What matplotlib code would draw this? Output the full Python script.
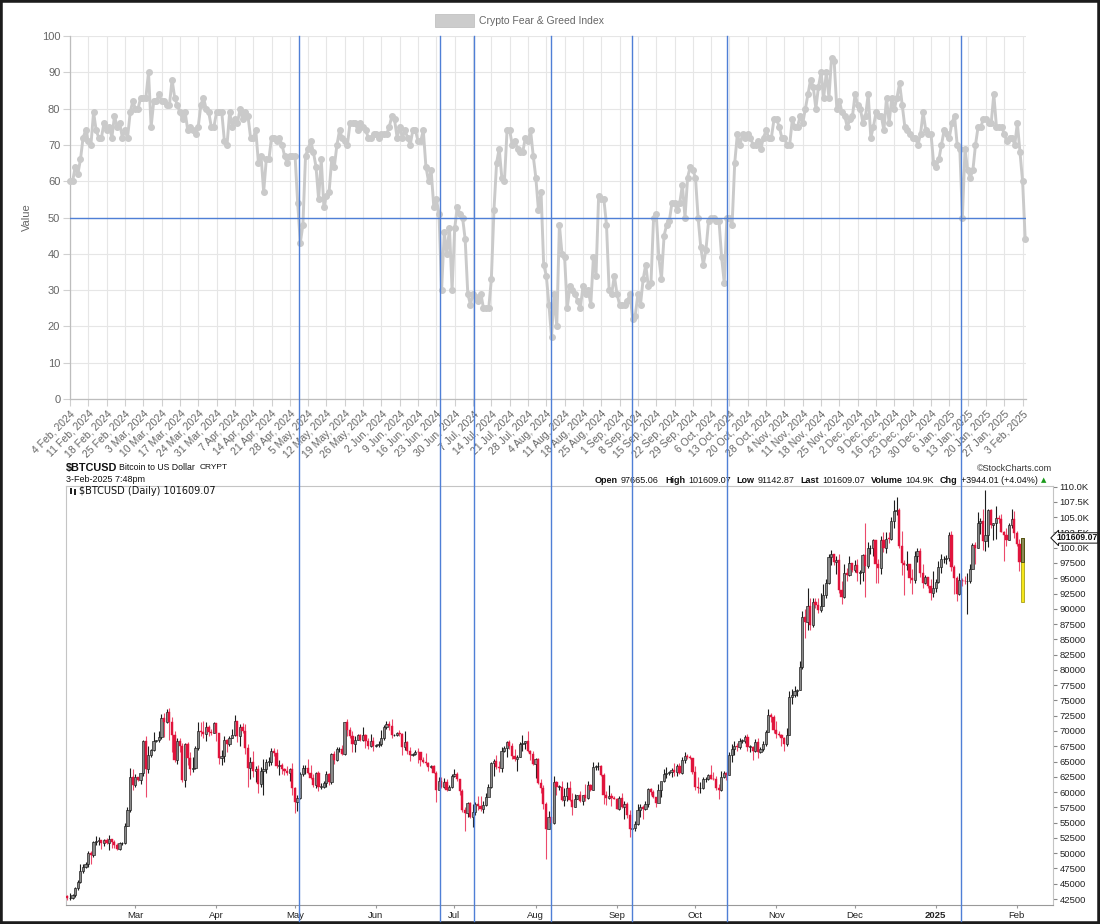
import matplotlib
matplotlib.use('Agg')
import matplotlib.pyplot as plt
from matplotlib.patches import Rectangle
from matplotlib.lines import Line2D
from matplotlib.transforms import blended_transform_factory
import numpy as np
import datetime as dt

# ---------------- DATA ----------------
start_date = dt.datetime(2024, 2, 4)

# Crypto Fear & Greed Index, daily from 4 Feb 2024 to 3 Feb 2025
fg_values = [
    60, 60, 64, 62, 66, 72, 74, 71, 70, 79,
    74, 72, 72, 76, 74, 75, 72, 78, 75, 76,
    72, 74, 72, 79, 82, 80, 80, 83, 83, 83,
    90, 75, 82, 82, 84, 82, 82, 81, 81, 88,
    83, 81, 79, 77, 79, 74, 75, 74, 73, 75,
    81, 83, 80, 79, 75, 75, 79, 79, 79, 71,
    70, 79, 75, 77, 76, 80, 77, 79, 78, 72,
    72, 74, 65, 67, 57, 66, 66, 72, 72, 71,
    72, 70, 67, 65, 67, 67, 67, 54, 43, 48,
    67, 69, 71, 68, 64, 55, 66, 53, 56, 57,
    66, 64, 70, 74, 72, 71, 70, 76, 76, 76,
    74, 76, 75, 74, 72, 72, 73, 73, 72, 73,
    73, 73, 75, 78, 77, 72, 75, 72, 74, 72,
    70, 74, 74, 71, 71, 74, 64, 60, 63, 53,
    55, 51, 30, 46, 40, 47, 30, 47, 53, 51,
    50, 44, 29, 26, 29, 28, 27, 29, 25, 25,
    25, 33, 52, 65, 69, 61, 60, 74, 74, 70,
    71, 69, 68, 68, 72, 71, 74, 67, 61, 52,
    57, 37, 34, 26, 17, 29, 20, 48, 40, 39,
    25, 31, 30, 29, 27, 25, 31, 29, 30, 26,
    39, 34, 56, 55, 55, 48, 30, 29, 34, 29,
    26, 26, 26, 27, 29, 22, 23, 29, 26, 33,
    37, 31, 32, 50, 51, 39, 33, 45, 48, 49,
    54, 54, 52, 54, 59, 50, 61, 64, 63, 61,
    50, 42, 37, 41, 49, 50, 50, 49, 49, 39,
    32, 50, 50, 48, 65, 73, 70, 73, 72, 73,
    72, 70, 70, 71, 69, 72, 74, 72, 72, 77,
    77, 75, 72, 72, 70, 70, 77, 75, 75, 78,
    76, 80, 84, 88, 86, 80, 86, 90, 83, 90,
    83, 94, 93, 80, 82, 79, 78, 75, 77, 78,
    84, 81, 80, 76, 78, 84, 72, 75, 79, 78,
    78, 74, 83, 76, 83, 80, 83, 87, 81, 75,
    74, 73, 72, 72, 70, 73, 79, 74, 73, 73,
    65, 64, 66, 70, 74, 73, 72, 76, 78, 70,
    69, 50, 69, 63, 61, 63, 70, 75, 75, 77,
    77, 76, 76, 84, 75, 75, 75, 73, 71, 72,
    72, 70, 76, 68, 60, 44,
]

week_labels = [
    "4 Feb, 2024", "11 Feb, 2024", "18 Feb, 2024", "25 Feb, 2024", "3 Mar, 2024",
    "10 Mar, 2024", "17 Mar, 2024", "24 Mar, 2024", "31 Mar, 2024", "7 Apr, 2024",
    "14 Apr, 2024", "21 Apr, 2024", "28 Apr, 2024", "5 May, 2024", "12 May, 2024",
    "19 May, 2024", "26 May, 2024", "2 Jun, 2024", "9 Jun, 2024", "16 Jun, 2024",
    "23 Jun, 2024", "30 Jun, 2024", "7 Jul, 2024", "14 Jul, 2024", "21 Jul, 2024",
    "28 Jul, 2024", "4 Aug, 2024", "11 Aug, 2024", "18 Aug, 2024", "25 Aug, 2024",
    "1 Sep, 2024", "8 Sep, 2024", "15 Sep, 2024", "22 Sep, 2024", "29 Sep, 2024",
    "6 Oct, 2024", "13 Oct, 2024", "20 Oct, 2024", "28 Oct, 2024", "4 Nov, 2024",
    "11 Nov, 2024", "18 Nov, 2024", "25 Nov, 2024", "2 Dec, 2024", "9 Dec, 2024",
    "16 Dec, 2024", "23 Dec, 2024", "30 Dec, 2024", "6 Jan, 2025", "13 Jan, 2025",
    "20 Jan, 2025", "27 Jan, 2025", "3 Feb, 2025",
]

# BTCUSD daily candles (thousands of USD), 4 Feb 2024 .. 3 Feb 2025
btc_first_open = 43.0
btc_close = [
    42.6, 42.7, 43.1, 44.3, 45.3, 47.1, 47.8,
    48.3, 50.0, 49.7, 51.8, 52.0, 52.1, 51.6,
    52.1, 51.7, 52.3, 51.8, 51.3, 50.7, 51.6,
    51.7, 54.5, 57.1, 62.5, 61.2, 62.4, 62.0,
    63.1, 68.3, 63.8, 66.1, 66.9, 68.3, 68.5,
    69.0, 72.1, 71.5, 73.1, 71.4, 69.4, 65.3,
    68.4, 67.6, 61.9, 67.9, 65.5, 63.8, 64.0,
    67.2, 70.0, 69.9, 69.5, 70.7, 69.9, 69.7,
    71.3, 69.7, 65.5, 65.9, 68.5, 67.8, 68.9,
    69.4, 71.6, 69.1, 70.6, 70.0, 67.2, 63.9,
    64.9, 63.4, 63.8, 61.3, 63.5, 63.8, 64.9,
    64.9, 66.8, 66.4, 64.3, 64.5, 63.8, 63.5,
    63.1, 63.8, 60.6, 58.3, 59.1, 62.9, 63.9,
    64.0, 63.2, 62.3, 61.2, 63.1, 60.8, 60.8,
    61.5, 62.9, 61.6, 66.3, 65.2, 67.0, 67.0,
    66.3, 71.4, 70.1, 69.1, 67.9, 68.5, 69.3,
    68.5, 69.4, 68.3, 67.6, 68.4, 67.5, 67.7,
    67.8, 68.8, 70.6, 71.1, 70.8, 69.3, 69.3,
    69.6, 69.5, 67.3, 68.2, 66.8, 66.0, 66.2,
    66.6, 66.5, 65.2, 64.9, 64.8, 64.1, 64.2,
    63.2, 60.3, 61.8, 60.9, 61.6, 60.3, 60.9,
    62.7, 62.9, 62.1, 60.2, 57.0, 56.6, 58.2,
    55.9, 56.7, 58.0, 57.7, 57.3, 57.9, 59.2,
    60.8, 64.8, 65.1, 64.1, 63.9, 66.7, 67.2,
    68.2, 67.6, 65.9, 65.4, 65.8, 67.9, 68.0,
    68.3, 66.8, 66.2, 64.6, 65.4, 61.5, 60.7,
    58.1, 54.0, 56.0, 55.0, 61.7, 60.9, 60.9,
    58.7, 59.4, 60.6, 58.7, 57.5, 58.9, 59.5,
    58.5, 59.5, 59.0, 61.2, 60.4, 64.1, 64.2,
    64.2, 62.8, 59.5, 59.0, 59.4, 59.1, 58.9,
    57.3, 59.1, 57.5, 58.0, 56.2, 53.9, 54.2,
    54.8, 57.0, 57.6, 57.3, 58.1, 60.5, 60.0,
    59.2, 58.2, 60.3, 61.8, 62.9, 63.2, 63.3,
    63.6, 63.3, 64.3, 63.1, 65.2, 65.9, 65.8,
    65.6, 63.3, 60.8, 60.6, 60.7, 62.1, 62.1,
    62.8, 62.2, 62.1, 60.6, 60.3, 62.4, 63.2,
    62.8, 66.0, 67.0, 67.6, 67.4, 68.4, 68.4,
    69.0, 67.4, 67.4, 66.7, 68.2, 66.6, 67.0,
    67.9, 69.9, 72.7, 72.3, 70.2, 69.5, 69.4,
    68.8, 67.8, 69.4, 75.6, 75.9, 76.5, 76.7,
    80.5, 88.7, 87.9, 90.5, 87.3, 91.1, 90.6,
    89.8, 90.5, 92.3, 94.3, 98.4, 98.9, 97.7,
    98.0, 93.0, 91.9, 95.9, 95.6, 97.5, 96.4,
    97.2, 95.9, 96.0, 98.8, 97.0, 99.9, 99.9,
    101.2, 97.4, 96.7, 101.2, 100.0, 101.5, 101.4,
    104.3, 106.0, 106.1, 100.2, 97.5, 97.2, 97.3,
    95.1, 94.7, 98.7, 99.4, 95.8, 94.2, 95.2,
    93.7, 92.6, 93.4, 94.4, 96.9, 98.1, 98.2,
    98.3, 102.1, 96.9, 95.0, 92.5, 94.7, 94.6,
    94.5, 94.5, 96.5, 100.5, 99.9, 104.1, 104.4,
    101.1, 102.0, 106.1, 103.7, 104.0, 104.8, 104.7,
    102.6, 102.1, 101.3, 103.7, 104.7, 102.4, 100.6,
    97.7, 101.6,
]
btc_high = [
    43.1, 43.5, 43.4, 44.4, 45.6, 48.2, 48.2,
    48.6, 50.3, 50.4, 52.0, 52.8, 52.6, 52.2,
    52.3, 52.5, 53.0, 52.4, 52.1, 51.7, 51.8,
    51.9, 54.9, 57.5, 63.9, 63.7, 63.0, 62.4,
    63.2, 68.5, 69.2, 67.6, 67.0, 69.9, 68.6,
    70.0, 72.8, 72.9, 73.6, 73.8, 72.3, 70.0,
    68.9, 68.9, 68.0, 68.1, 68.2, 66.6, 65.7,
    67.6, 71.5, 71.5, 71.7, 71.5, 70.9, 70.3,
    71.4, 71.3, 69.7, 66.9, 69.2, 68.7, 69.1,
    70.3, 72.7, 71.7, 71.2, 71.3, 71.2, 67.9,
    65.8, 66.8, 64.3, 64.5, 64.1, 65.4, 65.4,
    65.7, 67.2, 67.2, 67.1, 65.3, 64.8, 63.9,
    64.2, 64.0, 64.7, 60.8, 59.6, 63.3, 64.5,
    64.5, 65.4, 64.4, 62.9, 63.3, 63.4, 61.5,
    61.8, 63.4, 63.1, 66.4, 66.7, 67.4, 67.4,
    67.7, 71.5, 71.9, 70.6, 70.0, 69.2, 69.5,
    69.5, 70.6, 69.5, 68.9, 69.5, 69.0, 67.9,
    68.4, 70.2, 71.0, 71.7, 71.6, 72.0, 69.5,
    69.9, 70.1, 69.6, 70.0, 68.4, 67.3, 66.4,
    66.9, 67.2, 66.1, 65.7, 66.4, 64.9, 64.5,
    64.5, 63.4, 62.4, 62.4, 62.3, 62.2, 61.2,
    63.0, 63.8, 63.3, 62.2, 60.5, 57.5, 58.4,
    58.3, 58.1, 58.3, 59.4, 59.4, 58.5, 59.8,
    61.4, 64.9, 65.4, 66.0, 65.1, 67.4, 67.6,
    68.4, 68.5, 68.0, 67.1, 66.1, 68.2, 69.4,
    68.3, 70.0, 66.9, 66.8, 65.6, 65.6, 62.2,
    61.1, 58.3, 56.9, 57.7, 62.7, 61.8, 61.2,
    61.8, 60.6, 61.6, 61.8, 59.8, 59.7, 59.6,
    60.2, 59.6, 61.4, 61.8, 61.4, 64.9, 64.5,
    65.0, 64.5, 63.2, 60.1, 61.1, 59.9, 59.4,
    59.1, 59.4, 59.8, 58.5, 58.3, 57.0, 54.8,
    55.3, 58.1, 58.0, 57.9, 58.6, 60.6, 60.6,
    60.4, 59.2, 61.3, 61.7, 63.8, 64.1, 63.5,
    64.0, 64.7, 64.6, 64.8, 65.8, 66.5, 66.2,
    66.0, 65.6, 64.2, 62.4, 61.7, 62.5, 62.4,
    62.9, 64.5, 63.3, 62.6, 61.3, 63.4, 63.5,
    63.3, 66.5, 67.9, 68.4, 68.1, 68.9, 68.7,
    69.4, 69.5, 67.7, 67.5, 68.7, 68.8, 67.4,
    68.3, 70.2, 73.6, 72.9, 72.7, 71.6, 70.0,
    69.5, 69.0, 70.5, 76.5, 76.9, 77.3, 76.8,
    81.5, 89.6, 89.9, 93.4, 91.8, 91.8, 91.8,
    91.7, 92.6, 94.1, 94.9, 99.0, 99.6, 98.9,
    98.6, 98.9, 94.6, 97.3, 96.6, 98.7, 97.5,
    98.0, 98.2, 96.3, 99.0, 104.0, 101.0, 100.5,
    101.4, 101.2, 98.2, 101.9, 102.5, 102.6, 102.6,
    105.1, 107.8, 108.3, 106.5, 102.8, 98.0, 99.5,
    97.4, 96.5, 99.4, 99.9, 99.9, 97.3, 95.6,
    95.2, 94.9, 96.2, 94.9, 97.8, 98.9, 98.7,
    98.8, 102.5, 102.7, 97.2, 95.3, 95.8, 95.0,
    95.4, 95.9, 97.4, 100.7, 100.9, 105.9, 104.9,
    106.3, 109.4, 106.4, 106.3, 104.1, 106.8, 105.3,
    105.5, 102.7, 103.3, 104.0, 106.4, 106.0, 102.7,
    101.4, 101.6,
]
btc_low = [
    42.3, 42.3, 42.5, 42.8, 44.0, 45.2, 46.8,
    47.6, 47.8, 48.3, 49.3, 51.3, 51.4, 50.7,
    51.2, 51.5, 50.6, 50.8, 50.9, 50.5, 50.6,
    51.3, 51.5, 54.4, 56.7, 60.4, 60.8, 61.8,
    61.3, 62.7, 59.2, 63.2, 65.7, 66.7, 68.2,
    68.2, 68.7, 69.0, 71.3, 68.6, 66.6, 64.9,
    64.6, 66.6, 61.6, 60.8, 64.5, 62.8, 63.3,
    63.8, 66.9, 69.2, 68.9, 68.3, 69.1, 69.3,
    69.6, 68.4, 64.6, 64.5, 65.0, 66.5, 67.5,
    68.8, 69.1, 68.2, 67.5, 69.6, 66.3, 60.8,
    62.2, 62.4, 61.7, 59.8, 60.8, 59.6, 63.2,
    64.2, 64.5, 65.9, 63.9, 62.8, 62.9, 62.8,
    62.8, 61.8, 59.6, 56.6, 56.9, 58.8, 62.6,
    62.9, 62.9, 62.1, 60.9, 60.7, 60.2, 60.5,
    60.6, 60.8, 61.2, 61.4, 64.6, 65.1, 66.6,
    66.1, 66.1, 69.2, 68.8, 66.5, 66.6, 68.5,
    68.3, 68.3, 67.2, 67.1, 67.4, 66.7, 67.4,
    67.4, 67.6, 68.5, 70.3, 70.1, 68.8, 69.1,
    69.2, 69.2, 66.1, 66.9, 66.3, 65.1, 65.9,
    66.0, 64.8, 64.2, 64.7, 64.5, 63.4, 63.9,
    63.2, 58.4, 60.3, 60.6, 60.6, 60.1, 60.3,
    60.7, 62.5, 61.8, 59.5, 56.8, 53.6, 56.0,
    55.8, 54.3, 56.3, 57.1, 56.9, 56.6, 57.8,
    59.5, 60.6, 62.7, 63.8, 63.3, 63.3, 66.6,
    65.8, 67.1, 65.4, 65.1, 63.5, 65.7, 66.8,
    67.0, 66.6, 65.3, 64.5, 62.3, 61.3, 59.9,
    57.3, 49.1, 54.0, 54.6, 54.8, 59.6, 60.3,
    58.5, 57.8, 58.5, 58.5, 56.2, 57.5, 58.8,
    58.4, 57.9, 58.6, 58.8, 60.1, 60.4, 63.6,
    63.6, 62.7, 58.1, 57.9, 58.8, 57.8, 58.8,
    57.2, 57.1, 57.4, 55.6, 55.7, 52.6, 53.8,
    53.7, 54.6, 56.0, 55.6, 57.0, 57.6, 59.6,
    59.0, 57.5, 58.4, 59.2, 61.7, 62.3, 62.8,
    62.4, 62.7, 62.7, 62.9, 62.9, 64.8, 65.4,
    65.4, 62.9, 60.3, 59.9, 59.9, 60.5, 61.7,
    61.9, 62.1, 61.9, 60.3, 58.9, 60.1, 62.3,
    62.0, 62.8, 64.9, 66.1, 66.8, 67.1, 68.0,
    68.1, 66.8, 66.6, 65.3, 66.5, 65.6, 66.4,
    66.8, 67.6, 69.8, 71.4, 69.7, 68.9, 69.1,
    67.5, 66.8, 67.5, 69.3, 74.5, 75.6, 75.8,
    76.7, 80.2, 85.2, 86.6, 86.6, 87.1, 90.1,
    89.3, 89.4, 90.4, 91.7, 94.1, 97.2, 97.2,
    95.7, 92.6, 90.8, 91.8, 94.6, 95.4, 96.1,
    96.0, 94.5, 94.0, 94.6, 91.9, 96.6, 98.9,
    98.7, 94.3, 94.3, 95.7, 99.3, 99.2, 100.8,
    101.2, 103.3, 105.3, 100.0, 95.6, 92.2, 96.4,
    94.2, 92.4, 94.2, 97.6, 95.2, 93.4, 94.0,
    93.4, 91.5, 92.0, 92.8, 94.2, 95.9, 97.5,
    97.3, 97.9, 96.2, 92.5, 91.2, 92.2, 93.8,
    94.0, 89.2, 94.3, 96.5, 97.3, 99.9, 102.3,
    99.6, 99.5, 100.1, 103.3, 101.3, 101.5, 104.1,
    102.6, 97.8, 100.3, 101.3, 103.3, 101.6, 100.3,
    96.2, 91.1,
]

month_ticks = ["2024-03-01", "2024-04-01", "2024-05-01", "2024-06-01", "2024-07-01",
               "2024-08-01", "2024-09-01", "2024-10-01", "2024-11-01", "2024-12-01",
               "2025-01-01", "2025-02-01"]
month_labels = ["Mar", "Apr", "May", "Jun", "Jul", "Aug", "Sep", "Oct", "Nov", "Dec", "2025", "Feb"]

event_dates = ["2024-05-01 15:00", "2024-06-24 12:00", "2024-07-07 07:00", "2024-08-05 19:00",
               "2024-09-05 17:00", "2024-10-12 00:00", "2025-01-09 07:00"]

price_ticks = [42.5 + 2.5 * k for k in range(28)]

# ---------------- FIGURE ----------------
W, H = 1100, 924
fig = plt.figure(figsize=(W / 100, H / 100), dpi=100)
fig.patch.set_facecolor('white')
FONT = ['Liberation Sans', 'DejaVu Sans']
plt.rcParams['font.family'] = FONT


def fx(px):
    return px / W


def fy(py):
    return 1 - py / H


def day_of(s):
    d = dt.datetime.strptime(s, "%Y-%m-%d %H:%M" if ' ' in s else "%Y-%m-%d")
    return (d - start_date).total_seconds() / 86400.0


# ---------- top panel: Fear & Greed ----------
ax1 = fig.add_axes([fx(70), fy(399), fx(1026) - fx(70), fy(36) - fy(399)])
n_fg = len(fg_values)
fg_x = np.arange(n_fg)
ax1.set_xlim(0, 365.3)
ax1.set_ylim(0, 100)
ax1.set_xticks([7 * k for k in range(len(week_labels))])
ax1.set_xticklabels(week_labels, rotation=45, ha='right', va='top', rotation_mode='anchor',
                    fontsize=7.5, color='#666666')
ax1.set_yticks(range(0, 101, 10))
ax1.tick_params(axis='y', length=5, color='#d0d0d0', labelsize=8, labelcolor='#666666', pad=2)
ax1.tick_params(axis='x', length=5, color='#d0d0d0', pad=2)
ax1.grid(True, color='#e6e6e6', lw=0.8)
ax1.set_axisbelow(True)
for s in ['top', 'right']:
    ax1.spines[s].set_visible(False)
for s in ['left', 'bottom']:
    ax1.spines[s].set_color('#bdbdbd')
    ax1.spines[s].set_linewidth(0.9)
ax1.plot(fg_x, fg_values, color='#cacaca', lw=2.1, marker='o', ms=4.0,
         mfc='#cacaca', mec='#cacaca', clip_on=False, zorder=3)
ax1.axhline(50, color='#4f7fd6', lw=1.0, zorder=4)
fig.text(fx(27), fy(217), 'Value', rotation=90, ha='center', va='center', fontsize=8, color='#666666')

# legend
fig.patches.append(Rectangle((fx(435), fy(27)), fx(474) - fx(435), fy(14) - fy(27),
                             transform=fig.transFigure, facecolor='#cccccc', edgecolor='#bbbbbb', lw=0.5))
fig.text(fx(479), fy(20.5), 'Crypto Fear & Greed Index', ha='left', va='center', fontsize=7.5, color='#666666')

# ---------- bottom panel: BTCUSD candles ----------
ax2 = fig.add_axes([fx(65.7), fy(905), fx(1052.7) - fx(65.7), fy(486) - fy(905)])
closes = np.array(btc_close)
highs = np.array(btc_high)
lows = np.array(btc_low)
opens = np.r_[btc_first_open, closes[:-1]]
n = len(closes)
bx = np.arange(n)
up = closes >= opens
up[-1] = False
dn = closes < opens
body_bot = np.minimum(opens, closes)
body_h = np.maximum(np.abs(closes - opens), 0.12)

ax2.vlines(bx[up], lows[up], highs[up], color='#1e1e1e', lw=0.8, zorder=2)
ax2.vlines(bx[dn], lows[dn], highs[dn], color='#ec4a6c', lw=0.8, zorder=2)
ax2.bar(bx[up], body_h[up], bottom=body_bot[up], width=0.85, color='#8a8a8a',
        edgecolor='#151515', linewidth=0.45, zorder=3)
ax2.bar(bx[dn], body_h[dn], bottom=body_bot[dn], width=0.85, color='#e0143c',
        edgecolor='#e0143c', linewidth=0.3, zorder=3)
# last (current) candle highlighted
li = n - 1
ax2.bar([bx[li]], [highs[li] - lows[li]], bottom=[lows[li]], width=1.1, color='#f5e61c',
        edgecolor='#9a9000', linewidth=0.5, zorder=4)
ax2.bar([bx[li]], [closes[li] - opens[li]], bottom=[opens[li]], width=1.1, color='#8a8a55',
        edgecolor='#333300', linewidth=0.5, zorder=5)

ax2.set_xlim(-0.6, 376.7)
ax2.set_ylim(41.52, 110.1)
ax2.yaxis.tick_right()
ax2.set_yticks(price_ticks)
ax2.set_yticklabels([(f"{v:.1f}K" if v >= 100 else f"{int(round(v * 1000))}") for v in price_ticks])
ax2.tick_params(axis='y', length=3, color='#888888', labelsize=6.8, labelcolor='#222222', pad=2)
ax2.set_xticks([day_of(s) for s in month_ticks])
ax2.set_xticklabels(month_labels)
for lab in ax2.get_xticklabels():
    lab.set_fontsize(6.8)
    lab.set_color('#222222')
    if lab.get_text() == '2025':
        lab.set_fontweight('bold')
ax2.tick_params(axis='x', length=2, color='#999999', pad=2)
for s in ax2.spines.values():
    s.set_color('#c4c4c4')
    s.set_linewidth(0.8)
ax2.spines['bottom'].set_linestyle((0, (1, 1)))
ax2.spines['bottom'].set_color('#999999')

# current price tag (covers the 102.5K label, as in the original)
ax2.text(1.0035, closes[-1], '101609.07', transform=blended_transform_factory(ax2.transAxes, ax2.transData),
         ha='left', va='center', fontsize=6.2, fontweight='bold', color='#111111',
         bbox=dict(boxstyle='larrow,pad=0.08', fc='white', ec='#111111', lw=0.7), zorder=10, clip_on=False)

# inner legend
fig.patches.append(Rectangle((fx(70), fy(494)), fx(72.5) - fx(70), fy(488) - fy(494),
                             transform=fig.transFigure, facecolor='#222222', edgecolor='none'))
fig.patches.append(Rectangle((fx(73.5), fy(495)), fx(76) - fx(73.5), fy(489) - fy(495),
                             transform=fig.transFigure, facecolor='#222222', edgecolor='none'))
fig.text(fx(79), fy(491.5), '$BTCUSD (Daily) 101609.07', ha='left', va='center',
         fontsize=7, color='#111111', family=['DejaVu Sans'])

# header texts
fig.text(fx(66), fy(467.5), '$BTCUSD', ha='left', va='center', fontsize=7.8, fontweight='bold', color='#111111')
fig.text(fx(119), fy(468), 'Bitcoin to US Dollar', ha='left', va='center', fontsize=6.3, color='#111111')
fig.text(fx(200), fy(468), 'CRYPT', ha='left', va='center', fontsize=6.0, color='#111111')
fig.text(fx(66), fy(480), '3-Feb-2025 7:48pm', ha='left', va='center', fontsize=6.5, color='#111111')
fig.text(fx(1052), fy(468.5), '\u00a9StockCharts.com', ha='right', va='center', fontsize=6.5, color='#333333')

hdr = [("Open", 'bold'), ("97665.06", 'normal'), ("High", 'bold'), ("101609.07", 'normal'),
       ("Low", 'bold'), ("91142.87", 'normal'), ("Last", 'bold'), ("101609.07", 'normal'),
       ("Volume", 'bold'), ("104.9K", 'normal'), ("Chg", 'bold'), ("+3944.01 (+4.04%)", 'normal')]
renderer = fig.canvas.get_renderer()
objs = []
for t, w in hdr:
    objs.append(fig.text(0, fy(480.5), t, ha='left', va='center', fontsize=6.5, fontweight=w, color='#111111'))
tri = fig.text(0, fy(480.5), '\u25b2', ha='left', va='center', fontsize=5, color='#1a9a1a', family=['DejaVu Sans'])
widths = [o.get_window_extent(renderer).width for o in objs]
gaps = [3 if i % 2 == 0 else 6 for i in range(len(objs))]
tw = tri.get_window_extent(renderer).width
total = sum(widths) + sum(gaps[:-1]) + 3 + tw
xcur = 1046 - total
for o, wdt, g in zip(objs, widths, gaps):
    o.set_x(fx(xcur))
    xcur += wdt + g
tri.set_x(fx(xcur - g + 3))

# vertical event lines spanning both panels
trans = blended_transform_factory(ax1.transData, fig.transFigure)
for s in event_dates:
    xd = day_of(s)
    fig.add_artist(Line2D([xd, xd], [fy(921), fy(36)], transform=trans, color='#4f7fd6', lw=1.0, zorder=20))

# outer frame
fig.patches.append(Rectangle((0, 0), 1, 1, transform=fig.transFigure, fill=False, edgecolor='#1c1c1c', lw=4))

fig.savefig('out.png', dpi=100)
